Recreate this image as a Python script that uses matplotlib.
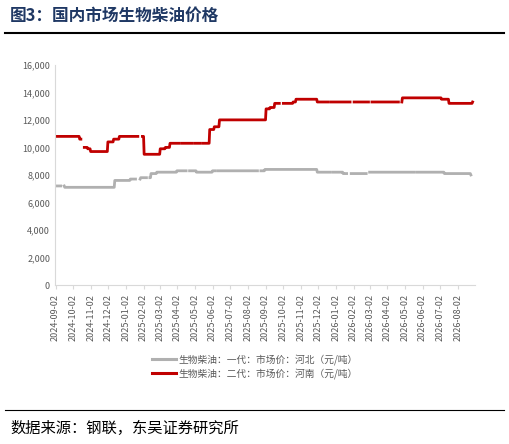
import numpy as np
import pandas as pd
import matplotlib
matplotlib.use("Agg")
import matplotlib.pyplot as plt
from matplotlib.lines import Line2D

plt.rcParams['font.family'] = ['Noto Sans CJK SC', 'DejaVu Sans']

# ---- step-change breakpoints (date, price) ----
red_dates = ["2024-09-02", "2024-10-14", "2024-10-22", "2024-10-28", "2024-11-02", "2024-12-02",
             "2024-12-12", "2024-12-22", "2025-02-03", "2025-03-03", "2025-03-12", "2025-03-20",
             "2025-05-28", "2025-06-05", "2025-06-14", "2025-09-03", "2025-09-10", "2025-09-18",
             "2025-10-20", "2025-10-25", "2025-12-01", "2026-04-28", "2026-07-05", "2026-07-18",
             "2026-08-28"]
red_vals = [10800, 10600, 10000, 9900, 9700, 10400,
            10600, 10800, 9500, 9900, 10000, 10300,
            11300, 11500, 12000, 12800, 12900, 13200,
            13300, 13500, 13300, 13600, 13500, 13200,
            13300]
red_gaps = [("2024-10-17", "2024-10-21"), ("2025-01-24", "2025-01-30"), ("2025-04-05", "2025-04-08"),
            ("2025-04-28", "2025-05-01"), ("2025-05-12", "2025-05-15"), ("2025-09-27", "2025-10-02"),
            ("2025-12-20", "2025-12-23"), ("2026-01-28", "2026-02-02"), ("2026-03-01", "2026-03-05"),
            ("2026-04-22", "2026-04-26")]

gray_dates = ["2024-09-02", "2024-09-18", "2024-12-14", "2025-01-10", "2025-01-28", "2025-02-15",
              "2025-02-25", "2025-04-01", "2025-05-05", "2025-06-02", "2025-09-01", "2025-12-01",
              "2026-01-15", "2026-03-01", "2026-07-10", "2026-08-25"]
gray_vals = [7200, 7100, 7600, 7700, 7800, 8100,
             8200, 8300, 8200, 8300, 8400, 8200,
             8100, 8200, 8100, 8000]
gray_gaps = [("2024-09-12", "2024-09-16"), ("2025-01-20", "2025-01-26"), ("2025-02-08", "2025-02-12"),
             ("2025-04-18", "2025-04-22"), ("2025-06-08", "2025-06-11"), ("2025-08-20", "2025-08-24"),
             ("2025-12-25", "2025-12-28"), ("2026-01-22", "2026-01-28"), ("2026-02-25", "2026-03-01"),
             ("2026-05-20", "2026-05-23")]

tick_dates = pd.date_range("2024-09-01", "2026-08-01", freq="MS") + pd.Timedelta(days=1)


def daily(dates, vals, gaps):
    idx = pd.date_range(dates[0], dates[-1], freq="D")
    s = pd.Series(vals, index=pd.to_datetime(dates)).reindex(idx).ffill()
    for a, b in gaps:
        s[a:b] = np.nan
    return s


red = daily(red_dates, red_vals, red_gaps)
gray = daily(gray_dates, gray_vals, gray_gaps)

fig = plt.figure(figsize=(5.09, 4.44), dpi=100)
ax = fig.add_axes([0.108, 0.358, 0.825, 0.496])
ax.plot(gray.index, gray.values, color="#B0B0B0", lw=2.0)
ax.plot(red.index, red.values, color="#C00000", lw=2.0)

ax.set_ylim(0, 16000)
ax.set_yticks(range(0, 16001, 2000))
ax.set_yticklabels([f"{v:,}" for v in range(0, 16001, 2000)])
ax.set_xlim(pd.Timestamp("2024-09-01"), pd.Timestamp("2026-09-01"))
ax.set_xticks(tick_dates)
ax.set_xticklabels([d.strftime("%Y-%m-%d") for d in tick_dates], rotation=90)
ax.tick_params(labelsize=6.5, colors="#595959", length=3)
for sp in ["top", "right"]:
    ax.spines[sp].set_visible(False)
ax.spines["left"].set_color("#D9D9D9")
ax.spines["bottom"].set_color("#D9D9D9")
ax.tick_params(axis="x", color="#D9D9D9")
ax.tick_params(axis="y", length=0)

handles = [Line2D([], [], color="#B0B0B0", lw=2.2), Line2D([], [], color="#C00000", lw=2.2)]
fig.legend(handles, ["生物柴油：一代：市场价：河北（元/吨）", "生物柴油：二代：市场价：河南（元/吨）"],
           loc="center", bbox_to_anchor=(0.5, 0.175), frameon=False, fontsize=7,
           labelcolor="#595959", handlelength=2.5, handletextpad=0.2, labelspacing=0.3)

fig.text(0.02, 0.965, "图3：国内市场生物柴油价格", fontsize=12, fontweight="bold",
         color="#1F3864", va="center")
fig.add_artist(Line2D([0.01, 0.99], [0.925, 0.925], color="black", lw=1.5))
fig.add_artist(Line2D([0.01, 0.99], [0.077, 0.077], color="black", lw=0.8))
fig.text(0.02, 0.035, "数据来源：钢联，东吴证券研究所", fontsize=11, color="black", va="center")

fig.savefig("out.png", dpi=100)
